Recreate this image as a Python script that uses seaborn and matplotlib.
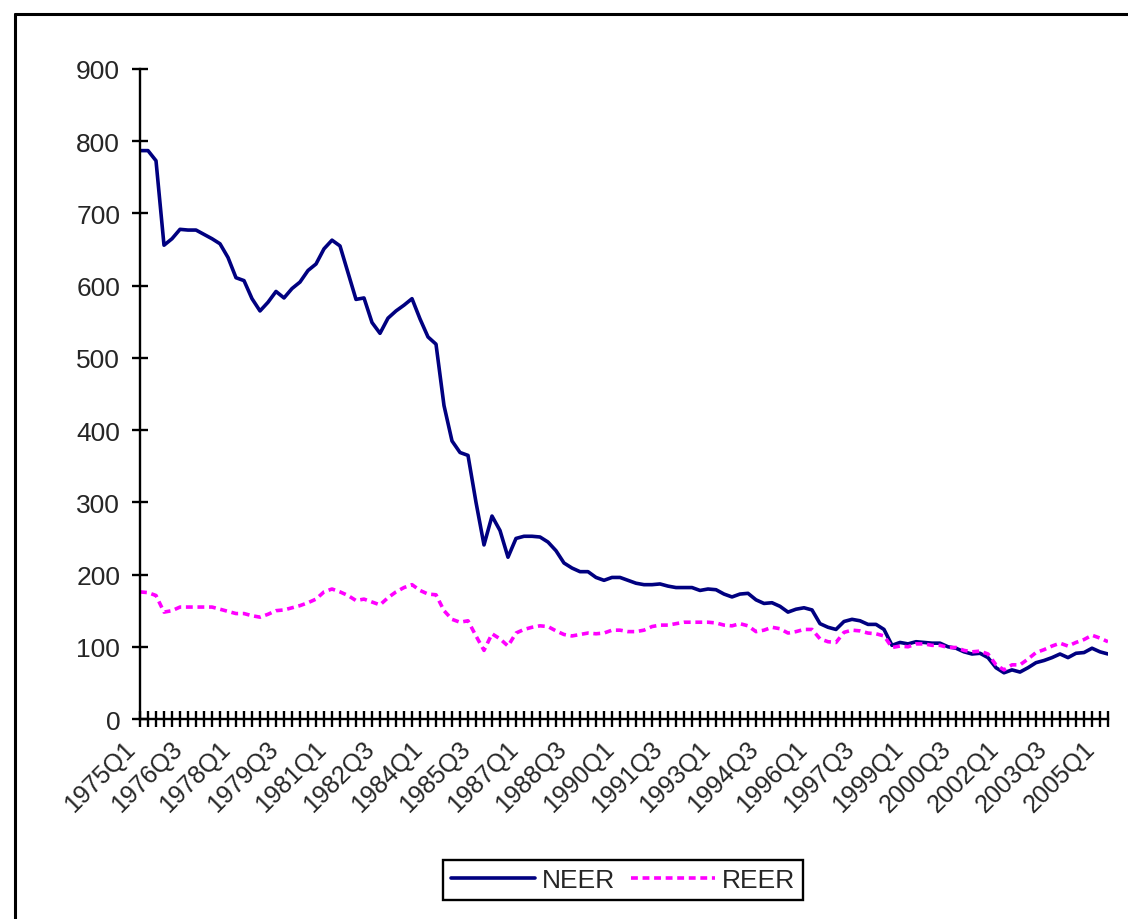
import matplotlib
matplotlib.use("Agg")
import matplotlib.pyplot as plt
from matplotlib.lines import Line2D
from matplotlib.transforms import ScaledTranslation
import numpy as np
import pandas as pd
import seaborn as sns

# Quarterly effective exchange rate indices, 1975Q1 - 2005Q2
quarters = [f"{y}Q{q}" for y in range(1975, 2006) for q in range(1, 5)][:122]

neer = [787, 787, 773, 656, 665, 678, 677, 677, 671, 665,
        658, 639, 611, 607, 582, 565, 577, 592, 583, 596,
        605, 621, 630, 651, 663, 655, 618, 581, 583, 549,
        534, 555, 565, 573, 582, 554, 529, 519, 434, 385,
        369, 365, 300, 241, 281, 261, 224, 250, 253, 253,
        252, 245, 233, 216, 209, 204, 204, 196, 192, 196,
        196, 192, 188, 186, 186, 187, 184, 182, 182, 182,
        178, 180, 179, 173, 169, 173, 174, 165, 160, 161,
        156, 148, 152, 154, 151, 132, 127, 124, 135, 138,
        136, 131, 131, 124, 102, 106, 104, 107, 106, 105,
        105, 100, 98, 93, 90, 91, 85, 71, 64, 68,
        65, 71, 78, 81, 85, 90, 85, 91, 92, 98,
        93, 90]

reer = [176, 175, 171, 148, 150, 155, 155, 155, 155, 155,
        152, 149, 146, 146, 143, 141, 145, 150, 151, 154,
        157, 161, 166, 176, 180, 176, 171, 164, 166, 162,
        158, 168, 176, 182, 186, 178, 173, 172, 150, 138,
        134, 136, 115, 95, 118, 111, 101, 119, 124, 127,
        129, 128, 122, 117, 115, 117, 119, 118, 119, 123,
        123, 121, 121, 123, 128, 130, 130, 132, 134, 134,
        134, 134, 133, 130, 129, 132, 129, 121, 123, 127,
        125, 119, 121, 124, 124, 111, 107, 106, 120, 123,
        122, 119, 118, 115, 99, 101, 100, 104, 104, 102,
        102, 99, 99, 95, 93, 94, 90, 75, 68, 75,
        75, 83, 92, 96, 101, 105, 101, 106, 110, 116,
        112, 107]

series_names = ["NEER", "REER"]
label_step = 6

df = pd.DataFrame({"pos": np.arange(len(quarters)), "quarter": quarters,
                   "NEER": neer, "REER": reer})

sns.set_style("white")
plt.rcParams["font.family"] = ["Liberation Sans", "DejaVu Sans"]

W, H = 1128, 920
fig = plt.figure(figsize=(W / 100, H / 100), dpi=100)
ax = fig.add_axes([140 / W, 1 - 720 / H, 968 / W, 650 / H])

sns.lineplot(data=df, x="pos", y="NEER", ax=ax, color="#000080",
             linewidth=2.6, label=series_names[0])
sns.lineplot(data=df, x="pos", y="REER", ax=ax, color="#FF00FF",
             linewidth=2.6, linestyle=(0, (1.9, 1.3)), label=series_names[1])

ax.set_xlim(0, len(quarters) - 1)
ax.set_ylim(0, 900)
ax.set_yticks(np.arange(0, 901, 100))
ax.set_xticks(df["pos"])
ax.set_xticklabels([q if i % label_step == 0 else "" for i, q in enumerate(quarters)],
                   rotation=45, ha="right", va="center", rotation_mode="anchor")
ax.set_xlabel("")
ax.set_ylabel("")

for side in ["top", "right"]:
    ax.spines[side].set_visible(False)
for side in ["left", "bottom"]:
    ax.spines[side].set_color("black")
    ax.spines[side].set_linewidth(1.7)

ax.tick_params(axis="y", direction="inout", length=11.5, width=1.7,
               color="black", labelsize=19, pad=8.5, left=True)
ax.tick_params(axis="x", direction="inout", length=11.5, width=1.7,
               color="black", labelsize=18, pad=12.5, bottom=True)

shift = ScaledTranslation(-9 / 100, 0, fig.dpi_scale_trans)
for lab in ax.get_xticklabels():
    lab.set_transform(lab.get_transform() + shift)

ax.get_legend().remove()
handles, labels = ax.get_legend_handles_labels()
leg = fig.legend(handles, labels, loc="center", bbox_to_anchor=(623 / W, 1 - 881 / H),
                 ncol=2, fontsize=19, frameon=True, fancybox=False, framealpha=1,
                 edgecolor="black", handlelength=3.2, handletextpad=0.25,
                 columnspacing=0.6, borderpad=0.3)
leg.get_frame().set_linewidth(1.7)

# outer chart frame (top and left edges)
fig.add_artist(Line2D([14.5 / W, 1], [1 - 14.5 / H, 1 - 14.5 / H],
                      transform=fig.transFigure, color="black", linewidth=2.2))
fig.add_artist(Line2D([14.5 / W, 14.5 / W], [0, 1 - 14.5 / H],
                      transform=fig.transFigure, color="black", linewidth=2.2))

fig.savefig("out.png", dpi=100)
